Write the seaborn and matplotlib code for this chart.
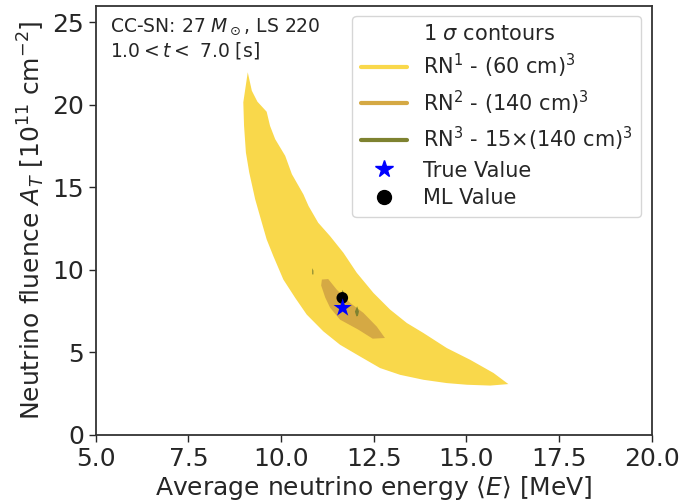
import matplotlib
matplotlib.use("Agg")
import matplotlib.pyplot as plt
from matplotlib.lines import Line2D
import seaborn as sns
import pandas as pd

# 1-sigma region for RN^1 - (60 cm)^3, traced as a closed outline
rn1_E = [9.10, 9.21, 9.36, 9.61, 9.70, 9.84, 10.11, 10.29, 10.60, 10.74, 11.00,
         11.32, 11.68, 12.04, 12.49, 12.94, 13.39, 13.84, 14.47, 15.10, 15.73, 16.13,
         15.64, 15.01, 14.47, 13.84, 13.21, 12.67, 12.13, 11.59, 11.14, 10.69,
         10.38, 10.06, 9.79, 9.61, 9.48, 9.30, 9.14, 9.05, 9.00, 8.98]
rn1_A = [21.96, 20.84, 20.18, 19.57, 18.72, 17.91, 16.90, 15.79, 14.57, 13.86, 12.85,
         12.04, 11.03, 9.82, 8.60, 7.59, 6.78, 6.17, 5.26, 4.55, 3.75, 3.08,
         2.99, 3.04, 3.14, 3.34, 3.64, 4.05, 4.75, 5.46, 6.27, 7.29,
         8.30, 9.41, 10.83, 11.84, 12.85, 14.27, 15.89, 17.10, 18.72, 20.14]

# 1-sigma region for RN^2 - (140 cm)^3
rn2_E = [11.10, 11.27, 11.50, 11.86, 12.22, 12.58, 12.80, 12.47, 12.08, 11.59,
         11.32, 11.19, 11.08]
rn2_A = [9.41, 9.44, 8.80, 8.00, 7.39, 6.56, 5.87, 5.83, 6.38, 6.98,
         7.71, 8.32, 9.05]

# 1-sigma islands for RN^3 - 15x(140 cm)^3
rn3a_E = [12.03, 11.99, 12.05, 12.10, 12.07]
rn3a_A = [7.18, 7.47, 7.79, 7.47, 7.20]
rn3b_E = [11.62, 11.66, 11.70]
rn3b_A = [8.55, 8.78, 8.55]
rn3c_E = [10.84, 10.84, 10.87, 10.87]
rn3c_A = [9.72, 10.10, 9.95, 9.72]

# reference points
true_E, true_A = [11.66], [7.69]
ml_E, ml_A = [11.65], [8.30]

xticks = [5.0, 7.5, 10.0, 12.5, 15.0, 17.5, 20.0]
yticks = [0, 5, 10, 15, 20, 25]

c_rn1 = "#F9D84B"
c_rn2 = "#D5A944"
c_rn3 = "#7E8230"

sns.set_style("ticks")
plt.rcParams["font.family"] = ["DejaVu Sans"]
plt.rcParams["mathtext.fontset"] = "dejavusans"

fig = plt.figure(figsize=(6.84, 5.04), dpi=100)
ax = fig.add_axes([0.140, 0.137, 0.813, 0.852])

ax.fill(rn1_E, rn1_A, color=c_rn1, lw=0)
ax.fill(rn2_E, rn2_A, color=c_rn2, lw=0)
for e, a in [(rn3a_E, rn3a_A), (rn3b_E, rn3b_A), (rn3c_E, rn3c_A)]:
    ax.fill(e, a, color=c_rn3, lw=0)

pts_ml = pd.DataFrame({"E": ml_E, "A": ml_A})
pts_true = pd.DataFrame({"E": true_E, "A": true_A})
sns.scatterplot(data=pts_ml, x="E", y="A", ax=ax, marker="o", s=70,
                color="black", edgecolor="none", zorder=5)
sns.scatterplot(data=pts_true, x="E", y="A", ax=ax, marker="*", s=190,
                color="blue", edgecolor="none", zorder=6)

ax.set_xlim(5, 20)
ax.set_ylim(0, 26)
ax.set_xticks(xticks)
ax.set_yticks(yticks)
ax.set_xticklabels([f"{t:.1f}" for t in xticks])
ax.set_yticklabels([str(t) for t in yticks])
ax.tick_params(labelsize=18, length=5, width=1, direction="out")
for s in ax.spines.values():
    s.set_visible(True)
    s.set_color("#333333")
    s.set_linewidth(1.3)

ax.set_xlabel(r"Average neutrino energy $\langle E\rangle$ [MeV]", fontsize=18, labelpad=2)
ax.set_ylabel(r"Neutrino fluence $A_T$ [$10^{11}$ cm$^{-2}$]", fontsize=18, labelpad=4)

ax.text(0.025, 0.975, "CC-SN: 27 $M_\\odot$, LS 220\n1.0$<t<$ 7.0 [s]",
        transform=ax.transAxes, ha="left", va="top", fontsize=13.5, linespacing=1.2)

handles = [
    Line2D([], [], linestyle="none"),
    Line2D([], [], color=c_rn1, lw=3),
    Line2D([], [], color=c_rn2, lw=3),
    Line2D([], [], color=c_rn3, lw=3),
    Line2D([], [], color="blue", marker="*", linestyle="none", markersize=13),
    Line2D([], [], color="black", marker="o", linestyle="none", markersize=10),
]
labels = [
    r"1 $\sigma$ contours",
    r"RN$^1$ - (60 cm)$^3$",
    r"RN$^2$ - (140 cm)$^3$",
    r"RN$^3$ - 15$\times$(140 cm)$^3$",
    "True Value",
    "ML Value",
]
ax.legend(handles, labels, loc="upper right", fontsize=15, frameon=True,
          handlelength=2.2, borderaxespad=0.5, labelspacing=0.38)

fig.savefig("out.png", dpi=100)
